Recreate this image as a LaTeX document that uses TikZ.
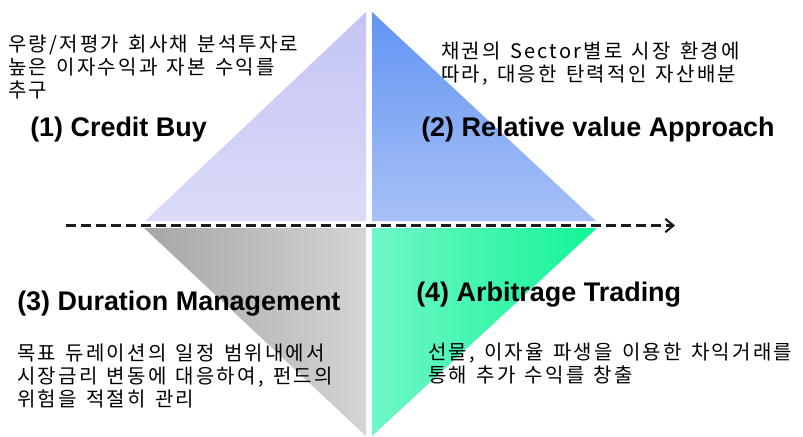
\documentclass[tikz,border=0pt]{standalone}
\usepackage{fontspec}
\setmainfont{Liberation Sans}
\newfontfamily\kr[WordSpace=1.4,LetterSpace=11]{Noto Sans CJK KR}
\usetikzlibrary{arrows.meta}
\definecolor{lavtop}{RGB}{196,196,245}
\definecolor{lavbot}{RGB}{219,219,248}
\definecolor{bluetop}{RGB}{98,148,243}
\definecolor{bluebot}{RGB}{168,193,246}
\definecolor{grayleft}{RGB}{166,166,166}
\definecolor{grayright}{RGB}{212,212,212}
\definecolor{greenleft}{RGB}{112,246,198}
\definecolor{greenright}{RGB}{18,245,150}
\definecolor{arrowcol}{RGB}{28,28,28}
\tikzset{
  heading/.style={font=\fontsize{20.2pt}{24pt}\selectfont\bfseries, anchor=west, inner sep=0pt, text=black},
  desc/.style={font=\kr\fontsize{15pt}{17.25pt}\selectfont, anchor=west, align=left, inner sep=0pt, text=black},
  axisline/.style={draw=arrowcol, line width=2.2pt, dash pattern=on 7.5pt off 3.75pt, -{Straight Barb[length=6pt,width=10pt,line width=1.6pt]}}
}
\begin{document}
\begin{tikzpicture}[x=0.75pt,y=-0.75pt]
\useasboundingbox (0,0) rectangle (803,436);
% quadrants
\shade[top color=lavtop, bottom color=lavbot] (145,221) -- (366,12) -- (366,221) -- cycle;
\shade[top color=bluetop, bottom color=bluebot] (372,12) -- (372,221) -- (596,221) -- cycle;
\shade[left color=grayleft, right color=grayright] (144,228) -- (366,228) -- (366,436) -- cycle;
\shade[left color=greenleft, right color=greenright] (372,228) -- (597,228) -- (372,436) -- cycle;
% axis
\coordinate (axstart) at (66,225.5);
\coordinate (axend) at (675,225.5);
\draw[axisline] (axstart) -- (axend);
% headings
\node[heading] (h1) at (30,130) {(1) Credit Buy};
\node[heading] (h2) at (421,130) {(2) Relative value Approach};
\node[heading] (h3) at (17,304) {(3) Duration Management};
\node[heading] (h4) at (416,295) {(4) Arbitrage Trading};
% descriptions
\node[desc] (d1) at (8,67) {우량/저평가 회사채 분석투자로\\높은 이자수익과 자본 수익를\\추구};
\node[desc] (d2) at (441,64) {채권의 Sector별로 시장 환경에\\따라, 대응한 탄력적인 자산배분};
\node[desc] (d3) at (17,376) {목표 듀레이션의 일정 범위내에서\\시장금리 변동에 대응하여, 펀드의\\위험을 적절히 관리};
\node[desc] (d4) at (428,364) {선물, 이자율 파생을 이용한 차익거래를\\통해 추가 수익를 창출};
\end{tikzpicture}
\end{document}
